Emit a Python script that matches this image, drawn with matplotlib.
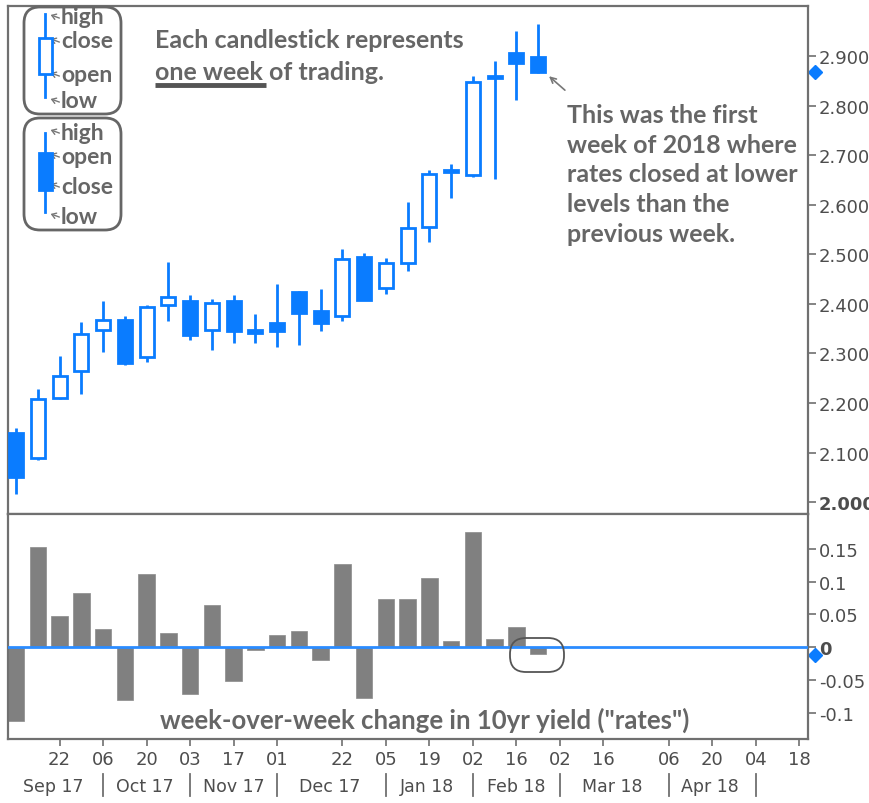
import numpy as np
import matplotlib
matplotlib.use('Agg')
import matplotlib.pyplot as plt
from matplotlib.patches import Rectangle, FancyBboxPatch, FancyArrowPatch
from matplotlib.transforms import blended_transform_factory

# weekly 10yr yield candles (Sep 17 - Feb 18)
opens = [2.139, 2.090, 2.211, 2.265, 2.347, 2.367, 2.293, 2.398, 2.406, 2.348, 2.406, 2.347, 2.361,
         2.424, 2.386, 2.376, 2.495, 2.433, 2.482, 2.556, 2.667, 2.660, 2.855, 2.907, 2.899]
closes = [2.051, 2.208, 2.255, 2.340, 2.367, 2.280, 2.394, 2.413, 2.338, 2.402, 2.346, 2.341, 2.346,
          2.381, 2.361, 2.490, 2.408, 2.482, 2.553, 2.662, 2.670, 2.848, 2.858, 2.885, 2.868]
highs = [2.150, 2.228, 2.294, 2.364, 2.406, 2.375, 2.398, 2.484, 2.418, 2.410, 2.418, 2.379, 2.441,
         2.426, 2.430, 2.511, 2.502, 2.492, 2.605, 2.671, 2.682, 2.859, 2.891, 2.950, 2.965]
lows = [2.016, 2.085, 2.209, 2.218, 2.303, 2.277, 2.282, 2.366, 2.327, 2.307, 2.322, 2.322, 2.312,
        2.316, 2.346, 2.366, 2.408, 2.420, 2.467, 2.524, 2.613, 2.656, 2.652, 2.812, 2.866]
# week-over-week change (lower panel)
changes = [-0.113, 0.153, 0.047, 0.083, 0.027, -0.081, 0.112, 0.021, -0.072, 0.065, -0.052, -0.005, 0.018,
           0.024, -0.019, 0.127, -0.078, 0.074, 0.074, 0.106, 0.009, 0.176, 0.013, 0.030, -0.010]

day_ticks = [2, 4, 6, 8, 10, 12, 15, 17, 19, 21, 23, 25, 27, 30, 32, 34, 36]
day_labels = ['22', '06', '20', '03', '17', '01', '22', '05', '19', '02', '16', '02', '16', '06', '20', '04', '18']
month_pos = [1.7, 5.9, 10.0, 14.4, 18.9, 23.0, 27.4, 31.9]
month_labels = ['Sep 17', 'Oct 17', 'Nov 17', 'Dec 17', 'Jan 18', 'Feb 18', 'Mar 18', 'Apr 18']
month_seps = [4, 8, 12, 17, 21, 25, 30, 34]

BLUE = '#0a7cff'
GREY_TXT = '#666666'
TICK_TXT = '#4d4d4d'
SPINE = '#707070'
TICK_FONT = ['Liberation Sans Narrow', 'DejaVu Sans']
BOLD_FONT = ['Lato', 'DejaVu Sans']

W, H = 869, 804
fig = plt.figure(figsize=(W / 100, H / 100), dpi=100)

left, right = 8 / W, 808 / W
ax1 = fig.add_axes([left, 1 - 515 / H, right - left, (515 - 7) / H])
ax2 = fig.add_axes([left, 1 - 740 / H, right - left, (740 - 515) / H], sharex=ax1)

x = np.arange(len(closes))

# candles
for i in x:
    ax1.plot([i, i], [lows[i], highs[i]], color=BLUE, lw=2.0, solid_capstyle='butt', zorder=2)
    lo = min(opens[i], closes[i])
    hgt = max(abs(closes[i] - opens[i]), 0.004)
    hollow = closes[i] >= opens[i]
    ax1.add_patch(Rectangle((i - 0.32, lo), 0.64, hgt, facecolor='white' if hollow else BLUE,
                            edgecolor=BLUE, lw=2.0, zorder=3))

ax1.set_xlim(-0.37, 36.4)
ax1.set_ylim(1.976, 3.001)
ax1.set_yticks(np.arange(2.0, 2.95, 0.1))
ax1.set_yticklabels(['%.3f' % v for v in np.arange(2.0, 2.95, 0.1)])
ax1.yaxis.tick_right()
ax1.tick_params(axis='y', direction='out', length=6, width=1.2, color=SPINE, labelcolor=TICK_TXT,
                labelsize=13, pad=2)
ax1.tick_params(axis='x', bottom=False, labelbottom=False)
for lab in ax1.get_yticklabels():
    lab.set_family(TICK_FONT)
ax1.get_yticklabels()[0].set_fontweight('bold')

# last close marker on the axis
tr1 = blended_transform_factory(ax1.transAxes, ax1.transData)
ax1.plot([1.009], [closes[-1]], marker='D', ms=7, color=BLUE, transform=tr1, clip_on=False)

# lower panel bars
ax2.bar(x, changes, width=0.76, color='#808080', edgecolor='#8a8a8a', lw=0.5, zorder=2)
ax2.axhline(0, color='#2b8cff', lw=2, zorder=3)
ax2.set_ylim(-0.140, 0.203)
ax2.set_yticks([-0.1, -0.05, 0, 0.05, 0.1, 0.15])
ax2.set_yticklabels(['-0.1', '-0.05', '0', '0.05', '0.1', '0.15'])
ax2.yaxis.tick_right()
ax2.tick_params(axis='y', direction='out', length=6, width=1.2, color=SPINE, labelcolor=TICK_TXT,
                labelsize=13, pad=2)
for lab in ax2.get_yticklabels():
    lab.set_family(TICK_FONT)
ax2.get_yticklabels()[2].set_fontweight('bold')
tr2 = blended_transform_factory(ax2.transAxes, ax2.transData)
ax2.plot([1.009], [-0.012], marker='D', ms=7, color=BLUE, transform=tr2, clip_on=False)

ax2.set_xticks(day_ticks)
ax2.set_xticklabels(day_labels)
ax2.tick_params(axis='x', direction='out', length=5, width=1.2, color=SPINE, labelcolor=TICK_TXT,
                labelsize=13, pad=3)
for lab in ax2.get_xticklabels():
    lab.set_family(TICK_FONT)

trx = blended_transform_factory(ax2.transData, ax2.transAxes)
for p, m in zip(month_pos, month_labels):
    ax2.text(p, -0.21, m, transform=trx, ha='center', va='center', fontsize=12.5,
             color=TICK_TXT, family=TICK_FONT)
for p in month_seps:
    ax2.plot([p, p], [-0.155, -0.255], transform=trx, color=SPINE, lw=1.3, clip_on=False)

for ax in (ax1, ax2):
    for s in ax.spines.values():
        s.set_color(SPINE)
        s.set_linewidth(1.6)

# overlay in pixel coordinates for the notes
ov = fig.add_axes([0, 0, 1, 1], zorder=5)
ov.set_xlim(0, W)
ov.set_ylim(H, 0)
ov.axis('off')
ov.patch.set_alpha(0)

# legend boxes
for (top, bot) in [(8, 115), (119, 231)]:
    ov.add_patch(FancyBboxPatch((24, top), 97, bot - top, boxstyle='round,pad=0,rounding_size=16',
                                facecolor='none', edgecolor='#666666', lw=2))
# up candle
ov.plot([45, 45], [15, 98], color=BLUE, lw=2)
ov.add_patch(Rectangle((38.5, 39), 13, 36, facecolor='white', edgecolor=BLUE, lw=2, zorder=3))
# down candle
ov.plot([45, 45], [134, 213], color=BLUE, lw=2)
ov.add_patch(Rectangle((38.5, 154), 13, 37, facecolor=BLUE, edgecolor=BLUE, lw=2, zorder=3))

legend_items = [('high', 18), ('close', 42), ('open', 76), ('low', 102),
                ('high', 133), ('open', 157), ('close', 187), ('low', 217)]
for word, yy in legend_items:
    ov.text(61, yy, word, ha='left', va='center', fontsize=16.5, fontweight='bold',
            color=GREY_TXT, family=BOLD_FONT)
    ov.add_patch(FancyArrowPatch((62, yy + 2), (48, yy - 3), arrowstyle='->,head_length=3,head_width=2',
                                 color='#777777', lw=1, mutation_scale=1))

ov.text(155, 40, 'Each candlestick represents', ha='left', va='center', fontsize=18,
        fontweight='bold', color=GREY_TXT, family=BOLD_FONT)
ov.text(155, 72, 'one week of trading.', ha='left', va='center', fontsize=18,
        fontweight='bold', color=GREY_TXT, family=BOLD_FONT)
ov.plot([155, 266], [86, 86], color='#555555', lw=3.5, solid_capstyle='butt')

ov.text(567, 175, 'This was the first\nweek of 2018 where\nrates closed at lower\nlevels than the\nprevious week.',
        ha='left', va='center', fontsize=18, fontweight='bold', color=GREY_TXT,
        family=BOLD_FONT, linespacing=1.36)
ax1.annotate('', xy=(len(closes) - 1 + 0.4, closes[-1] - 0.005), xytext=(567, H - 93),
             textcoords='figure pixels',
             arrowprops=dict(arrowstyle='->', color='#777777', lw=1.2))

ov.text(425, 720, 'week-over-week change in 10yr yield ("rates")', ha='center', va='center',
        fontsize=18.5, fontweight='bold', color=GREY_TXT, family=BOLD_FONT)

# highlight around last bar
ov.add_patch(FancyBboxPatch((510, 639), 54, 34, boxstyle='round,pad=0,rounding_size=16',
                            facecolor='none', edgecolor='#555555', lw=1.3))

fig.savefig('out.png', dpi=100)
